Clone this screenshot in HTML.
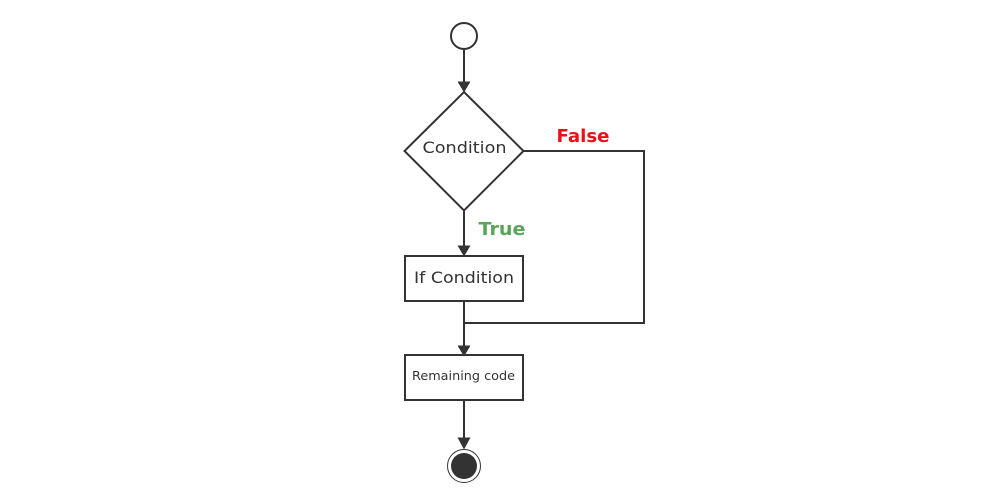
<!DOCTYPE html>
<html>
<head>
<meta charset="utf-8">
<style>
html,body{margin:0;padding:0;background:#fff;width:1000px;height:500px;overflow:hidden}
svg{display:block}
text{font-family:"DejaVu Sans","Liberation Sans",sans-serif}
</style>
</head>
<body>
<svg width="1000" height="500" viewBox="0 0 1000 500" xmlns="http://www.w3.org/2000/svg">
<g fill="none" stroke="#333" stroke-width="2">
<circle cx="464" cy="36" r="13" fill="#fff"/>
<path d="M464 49V84"/>
<path d="M464 92L523.500 151L464 210.500L404.500 151Z" fill="#fff"/>
<path d="M464 210.500V248"/>
<rect x="405" y="256" width="118" height="45" fill="#fff"/>
<path d="M464 301V347"/>
<path d="M523.500 151H644V323H464"/>
<rect x="405" y="355" width="118" height="45" fill="#fff"/>
<path d="M464 400V440"/>
</g>
<g fill="#333">
<path d="M457.500 81.500H470.500L464 92.500Z"/>
<path d="M457.500 245.500H470.500L464 256.500Z"/>
<path d="M457.500 345.500H470.500L464 356.500Z"/>
<path d="M457.500 437.500H470.500L464 449.500Z"/>
<circle cx="464" cy="466" r="13"/>
</g>
<circle cx="464" cy="466" r="16.500" fill="none" stroke="#333" stroke-width="1"/>
<text x="464.500" y="153" text-anchor="middle" font-size="16" fill="#333" textLength="84" lengthAdjust="spacingAndGlyphs">Condition</text>
<text x="464" y="283" text-anchor="middle" font-size="16" fill="#333" textLength="100" lengthAdjust="spacingAndGlyphs">If Condition</text>
<text x="463.500" y="380" text-anchor="middle" font-size="12" fill="#333" textLength="103" lengthAdjust="spacingAndGlyphs">Remaining code</text>
<text x="583" y="142" text-anchor="middle" font-size="18" font-weight="bold" fill="#e8111a" textLength="53" lengthAdjust="spacingAndGlyphs">False</text>
<text x="502" y="235" text-anchor="middle" font-size="18" font-weight="bold" fill="#5aa55a" textLength="47" lengthAdjust="spacingAndGlyphs">True</text>
</svg>
</body>
</html>
